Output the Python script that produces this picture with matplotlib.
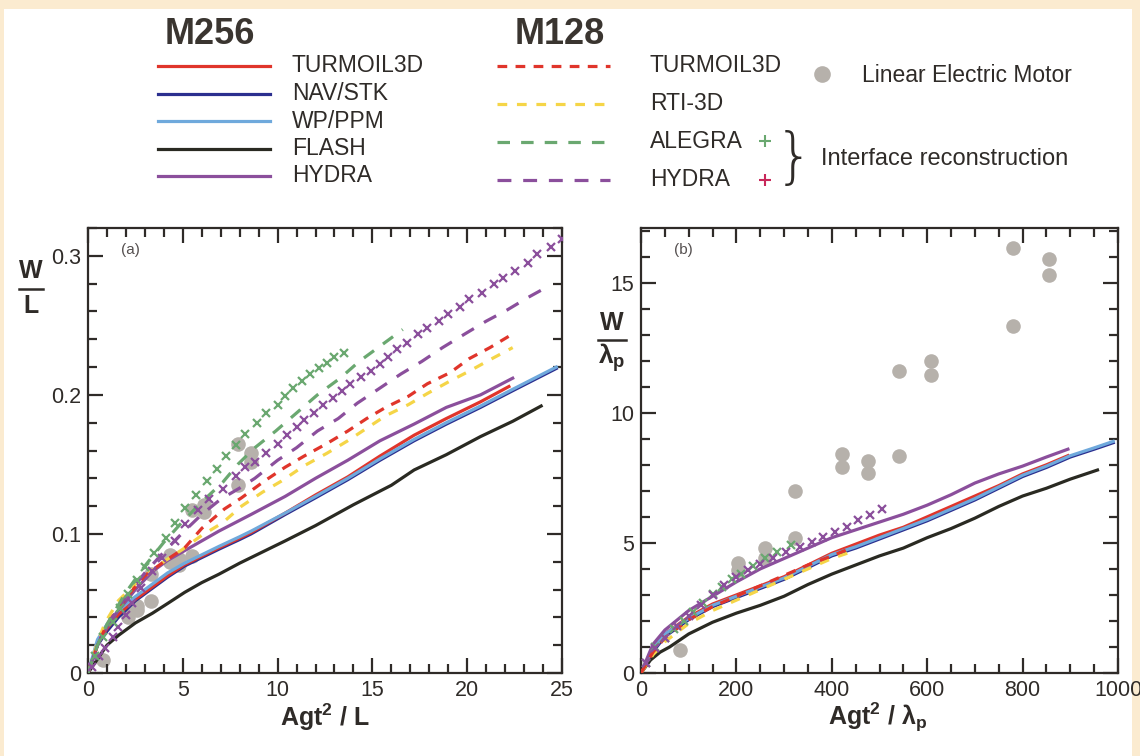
import matplotlib
matplotlib.use("Agg")
import matplotlib.pyplot as plt
from matplotlib.patches import Rectangle
from matplotlib.ticker import MultipleLocator

plt.rcParams['font.family'] = ['Liberation Sans', 'DejaVu Sans']
plt.rcParams['mathtext.fontset'] = 'custom'
plt.rcParams['mathtext.rm'] = 'Liberation Sans'
plt.rcParams['mathtext.bf'] = 'Liberation Sans:bold'
plt.rcParams['mathtext.it'] = 'Liberation Sans:italic'
plt.rcParams['lines.scale_dashes'] = False

# ---------------- panel (a): W/L versus Agt^2/L ----------------
a_flash_x = [0, 0.5, 1, 1.6, 2.5, 3.4, 4.2, 5.1, 6, 6.9, 8, 8.6, 10.4, 12, 14, 16, 17.2, 18.9, 20.7, 22.4, 23.9]
a_flash_y = [0, 0.010, 0.020, 0.027, 0.036, 0.043, 0.050, 0.058, 0.065, 0.071, 0.079, 0.083, 0.095, 0.106, 0.121, 0.135, 0.146, 0.157, 0.170, 0.181, 0.192]

a_navstk_x = [0, 0.5, 1, 1.6, 2.5, 3.4, 4.2, 5.1, 6, 6.9, 8, 8.6, 10.4, 12, 13.7, 15.4, 17.2, 18.9, 20.7, 22.4, 24.7]
a_navstk_y = [0, 0.020, 0.030, 0.040, 0.052, 0.061, 0.069, 0.077, 0.083, 0.089, 0.096, 0.100, 0.114, 0.126, 0.139, 0.153, 0.167, 0.179, 0.191, 0.203, 0.219]

a_wpppm_x = [0, 0.5, 1, 1.6, 2.5, 3.4, 4.2, 5.1, 6, 6.9, 8, 8.6, 10.4, 12, 13.7, 15.4, 17.2, 18.9, 20.7, 22.4, 24.7]
a_wpppm_y = [0, 0.024, 0.035, 0.045, 0.055, 0.064, 0.072, 0.079, 0.085, 0.091, 0.098, 0.102, 0.115, 0.127, 0.140, 0.154, 0.168, 0.180, 0.192, 0.204, 0.220]

a_turm256_x = [0, 0.5, 1, 1.6, 2.5, 3.4, 4.2, 5.1, 6, 6.9, 8, 8.6, 10.4, 12, 13.7, 15.4, 17.2, 18.9, 20.7, 22.2]
a_turm256_y = [0, 0.021, 0.032, 0.042, 0.053, 0.062, 0.070, 0.078, 0.084, 0.090, 0.097, 0.101, 0.115, 0.128, 0.141, 0.156, 0.171, 0.183, 0.195, 0.206]

a_hydra256_x = [0, 0.5, 1, 1.6, 2.5, 3.4, 4.2, 5.1, 6, 6.9, 8.6, 10.4, 12, 13.7, 15.4, 17.2, 18.9, 20.7, 22.4]
a_hydra256_y = [0, 0.020, 0.033, 0.045, 0.060, 0.073, 0.081, 0.088, 0.095, 0.102, 0.114, 0.127, 0.140, 0.153, 0.167, 0.179, 0.191, 0.200, 0.212]

a_turm128_x = [0, 0.5, 1, 2, 3, 4, 5.1, 6, 7.2, 8.1, 9.3, 10.4, 11.4, 12.6, 13.7, 14.7, 15.7, 16.9, 17.9, 19.1, 20.1, 21.2, 22.3]
a_turm128_y = [0, 0.020, 0.035, 0.054, 0.070, 0.080, 0.090, 0.104, 0.118, 0.126, 0.138, 0.148, 0.156, 0.165, 0.174, 0.183, 0.191, 0.199, 0.208, 0.216, 0.226, 0.234, 0.243]

a_rti_x = [0, 0.5, 0.9, 1.6, 2.5, 3.3, 4.1, 5.0, 6.0, 7.1, 8.1, 9.2, 10.2, 11.4, 12.6, 13.7, 14.7, 15.7, 16.9, 17.9, 19.1, 20.1, 21.3, 22.4]
a_rti_y = [0, 0.022, 0.036, 0.052, 0.064, 0.073, 0.081, 0.089, 0.099, 0.108, 0.120, 0.130, 0.138, 0.149, 0.158, 0.167, 0.176, 0.185, 0.193, 0.201, 0.210, 0.217, 0.226, 0.234]

a_alegra_x = [0, 0.5, 1, 2, 3, 4, 5, 6, 7.1, 7.9, 8.8, 9.9, 11.0, 12.1, 13.3, 14.3, 15.4, 16.6]
a_alegra_y = [0, 0.020, 0.035, 0.058, 0.077, 0.094, 0.109, 0.123, 0.137, 0.150, 0.162, 0.174, 0.187, 0.200, 0.212, 0.224, 0.235, 0.247]

a_hydra128_x = [0, 0.5, 1, 2, 3, 4, 5, 6, 7, 8, 8.8, 10.0, 11.0, 12.1, 13.2, 14.2, 15.3, 16.5, 17.6, 18.7, 19.9, 21.0, 22.1, 23.2, 24.4]
a_hydra128_y = [0, 0.020, 0.034, 0.055, 0.072, 0.087, 0.101, 0.114, 0.125, 0.133, 0.140, 0.153, 0.162, 0.174, 0.183, 0.194, 0.204, 0.215, 0.224, 0.234, 0.244, 0.253, 0.261, 0.270, 0.279]

# interface-reconstruction runs (markers)
a_alegra_ir_x = [0.35, 0.8, 1.3, 1.7, 2.1, 2.6, 3.0, 3.5, 4.1, 4.6, 5.1, 5.7, 6.3, 6.8, 7.3, 7.8, 8.3, 8.9, 9.4, 10.0, 10.4, 10.8, 11.3, 11.7, 12.2, 12.6, 13.0, 13.5]
a_alegra_ir_y = [0.012, 0.026, 0.037, 0.047, 0.057, 0.067, 0.076, 0.086, 0.097, 0.108, 0.119, 0.128, 0.138, 0.147, 0.156, 0.164, 0.172, 0.180, 0.187, 0.193, 0.199, 0.205, 0.210, 0.215, 0.219, 0.223, 0.227, 0.230]

a_hydra_ir_x = [0.2, 0.6, 0.9, 1.3, 1.6, 2.0, 2.3, 2.8, 3.4, 3.9, 4.6, 5.1, 5.8, 6.4, 7.1, 7.8, 8.3, 8.8, 9.4, 10.0, 10.5, 11.0, 11.4, 11.9, 12.4, 12.9, 13.4, 13.8, 14.4, 14.9, 15.4, 15.8, 16.3, 16.8, 17.4, 17.9, 18.5, 19.0, 19.6, 20.1, 20.8, 21.4, 21.9, 22.5, 23.2, 23.7, 24.4, 25.0]
a_hydra_ir_y = [0.004, 0.012, 0.018, 0.026, 0.033, 0.042, 0.050, 0.061, 0.073, 0.083, 0.095, 0.107, 0.117, 0.125, 0.132, 0.142, 0.148, 0.152, 0.158, 0.165, 0.171, 0.177, 0.182, 0.187, 0.193, 0.198, 0.203, 0.208, 0.213, 0.217, 0.222, 0.227, 0.233, 0.237, 0.244, 0.248, 0.253, 0.258, 0.263, 0.269, 0.273, 0.280, 0.284, 0.289, 0.295, 0.301, 0.306, 0.312]

# Linear Electric Motor experiments
a_lem_x = [7.9, 8.6, 8.6, 7.9, 6.1, 6.1, 5.5, 5.5, 4.3, 4.3, 4.8, 4.8, 3.3, 3.3, 2.6, 2.6, 2.1, 2.1, 0.8]
a_lem_y = [0.165, 0.158, 0.152, 0.135, 0.121, 0.116, 0.117, 0.084, 0.085, 0.080, 0.082, 0.078, 0.071, 0.052, 0.048, 0.045, 0.043, 0.040, 0.009]

# ---------------- panel (b): W/lambda_p versus Agt^2/lambda_p ----------------
b_flash_x = [0, 10, 20, 40, 60, 100, 150, 200, 250, 300, 350, 400, 450, 500, 550, 600, 650, 700, 750, 800, 850, 900, 957]
b_flash_y = [0, 0.25, 0.5, 0.8, 1.0, 1.5, 1.95, 2.3, 2.6, 2.95, 3.4, 3.8, 4.15, 4.5, 4.8, 5.2, 5.55, 5.95, 6.4, 6.8, 7.1, 7.45, 7.8]

b_navstk_x = [0, 20, 50, 100, 150, 200, 250, 300, 350, 400, 450, 500, 550, 600, 650, 700, 750, 800, 850, 900, 950, 990]
b_navstk_y = [0, 0.7, 1.4, 2.05, 2.55, 2.9, 3.25, 3.6, 4.05, 4.5, 4.8, 5.15, 5.5, 5.85, 6.25, 6.65, 7.1, 7.55, 7.9, 8.3, 8.6, 8.85]

b_wpppm_x = [0, 20, 50, 100, 150, 200, 250, 300, 350, 400, 450, 500, 550, 600, 650, 700, 750, 800, 850, 900, 950, 990]
b_wpppm_y = [0, 0.8, 1.5, 2.1, 2.6, 2.95, 3.3, 3.65, 4.1, 4.55, 4.85, 5.2, 5.55, 5.9, 6.3, 6.7, 7.15, 7.6, 7.95, 8.35, 8.65, 8.9]

b_turm256_x = [0, 25, 50, 100, 150, 200, 250, 300, 350, 400, 450, 500, 550, 600, 650, 700, 750, 800, 850, 895]
b_turm256_y = [0, 0.9, 1.5, 2.15, 2.65, 3.0, 3.35, 3.7, 4.15, 4.6, 4.95, 5.3, 5.6, 6.0, 6.4, 6.8, 7.2, 7.65, 8.0, 8.35]

b_hydra256_x = [0, 25, 50, 100, 150, 200, 250, 300, 350, 400, 450, 500, 550, 600, 650, 700, 750, 800, 850, 895]
b_hydra256_y = [0, 1.1, 1.65, 2.4, 2.95, 3.5, 4.0, 4.4, 4.8, 5.2, 5.5, 5.8, 6.1, 6.45, 6.85, 7.3, 7.65, 7.95, 8.3, 8.6]

b_turm128_x = [0, 25, 50, 100, 150, 200, 250, 300, 350, 400, 440]
b_turm128_y = [0, 0.8, 1.35, 2.05, 2.55, 2.95, 3.35, 3.75, 4.15, 4.5, 4.8]

b_rti_x = [0, 25, 50, 100, 150, 200, 250, 300, 350, 400, 440]
b_rti_y = [0, 0.7, 1.2, 1.9, 2.4, 2.8, 3.2, 3.6, 4.0, 4.4, 4.65]

b_alegra_ir_x = [10, 30, 50, 70, 90, 110, 130, 150, 170, 190, 210, 235, 260, 285, 315]
b_alegra_ir_y = [0.4, 1.0, 1.35, 1.7, 2.0, 2.35, 2.7, 3.05, 3.3, 3.6, 3.8, 4.1, 4.4, 4.65, 4.9]

b_hydra_ir_x = [10, 30, 50, 75, 100, 125, 150, 175, 200, 225, 250, 277, 305, 333, 358, 382, 406, 431, 455, 480, 505]
b_hydra_ir_y = [0.4, 0.95, 1.35, 1.8, 2.2, 2.6, 3.0, 3.4, 3.7, 3.95, 4.2, 4.4, 4.65, 4.85, 5.04, 5.23, 5.42, 5.62, 5.88, 6.08, 6.3]

b_lem_x = [780, 855, 855, 780, 608, 608, 541, 541, 421, 421, 476, 476, 323, 323, 260, 260, 203, 203, 82]
b_lem_y = [16.35, 15.9, 15.3, 13.35, 12.0, 11.46, 11.6, 8.35, 8.42, 7.92, 8.15, 7.7, 7.01, 5.19, 4.8, 4.42, 4.22, 3.96, 0.88]

# ---------------- styling ----------------
RED = '#e0352b'
NAVY = '#2b2f8f'
LBLUE = '#6fa9dc'
BLACK = '#2a2a22'
PURPLE = '#8b4f9c'
YELLOW = '#f5d547'
GREEN = '#6aa870'
CRIMSON = '#c8285a'
GREY = '#b6b1ab'
INK = '#2f2b28'

LW = 2.3
DASH = {'turm': (7, 6), 'rti': (7, 7), 'alegra': (9, 8), 'hydra': (10, 8.5)}

fig = plt.figure(figsize=(11.4, 7.56), dpi=100, facecolor='#fbebd0')
fig.add_artist(Rectangle((4 / 1140, 0), 1128 / 1140, 747 / 756, transform=fig.transFigure,
                         facecolor='white', edgecolor='none', zorder=-10))

ax_a = fig.add_axes([88 / 1140, 83 / 756, 474 / 1140, 445 / 756])
ax_b = fig.add_axes([641 / 1140, 83 / 756, 477 / 1140, 445 / 756])


def style_axes(ax):
    ax.set_facecolor('none')
    for sp in ax.spines.values():
        sp.set_linewidth(1.6)
        sp.set_color(INK)
    ax.tick_params(which='both', direction='in', top=True, right=True, color=INK,
                   labelcolor=INK, labelsize=15.5, width=1.6)
    ax.tick_params(which='major', length=11, pad=5)
    ax.tick_params(which='minor', length=6.5)


def draw_dashed(ax, x, y, color, key):
    ax.plot(x, y, color=color, lw=LW, dashes=DASH[key], solid_capstyle='butt', zorder=3)


# panel (a)
ax = ax_a
ax.plot(a_lem_x, a_lem_y, 'o', color=GREY, ms=10.5, mec='none', zorder=1)
ax.plot(a_flash_x, a_flash_y, color=BLACK, lw=LW, zorder=2)
ax.plot(a_navstk_x, a_navstk_y, color=NAVY, lw=LW, zorder=2)
ax.plot(a_turm256_x, a_turm256_y, color=RED, lw=LW, zorder=2)
ax.plot(a_wpppm_x, a_wpppm_y, color=LBLUE, lw=LW, zorder=2)
ax.plot(a_hydra256_x, a_hydra256_y, color=PURPLE, lw=LW, zorder=2)
draw_dashed(ax, a_rti_x, a_rti_y, YELLOW, 'rti')
draw_dashed(ax, a_turm128_x, a_turm128_y, RED, 'turm')
draw_dashed(ax, a_hydra128_x, a_hydra128_y, PURPLE, 'hydra')
draw_dashed(ax, a_alegra_x, a_alegra_y, GREEN, 'alegra')
ax.plot(a_hydra_ir_x, a_hydra_ir_y, 'x', color=PURPLE, ms=6, mew=1.6, zorder=4)
ax.plot(a_alegra_ir_x, a_alegra_ir_y, 'x', color=GREEN, ms=6, mew=1.6, zorder=4)
ax.set_xlim(0, 25)
ax.set_ylim(0, 0.32)
ax.xaxis.set_minor_locator(MultipleLocator(1))
ax.yaxis.set_minor_locator(MultipleLocator(0.02))
ax.set_xticks([0, 5, 10, 15, 20, 25], ['0', '5', '10', '15', '20', '25'])
ax.set_yticks([0, 0.1, 0.2, 0.3], ['0', '0.1', '0.2', '0.3'])
style_axes(ax)
ax.text(0.07, 0.95, '(a)', transform=ax.transAxes, fontsize=11, color='#555050', va='center')

# panel (b)
ax = ax_b
ax.plot(b_lem_x, b_lem_y, 'o', color=GREY, ms=10.5, mec='none', zorder=1)
ax.plot(b_flash_x, b_flash_y, color=BLACK, lw=LW, zorder=2)
draw_dashed(ax, b_rti_x, b_rti_y, YELLOW, 'rti')
draw_dashed(ax, b_turm128_x, b_turm128_y, RED, 'turm')
ax.plot(b_navstk_x, b_navstk_y, color=NAVY, lw=LW, zorder=2)
ax.plot(b_turm256_x, b_turm256_y, color=RED, lw=LW, zorder=2)
ax.plot(b_wpppm_x, b_wpppm_y, color=LBLUE, lw=LW, zorder=2)
ax.plot(b_hydra256_x, b_hydra256_y, color=PURPLE, lw=LW, zorder=2)
ax.plot(b_alegra_ir_x, b_alegra_ir_y, 'x', color=GREEN, ms=6, mew=1.6, zorder=4)
ax.plot(b_hydra_ir_x, b_hydra_ir_y, 'x', color=PURPLE, ms=6, mew=1.6, zorder=4)
ax.set_xlim(0, 1000)
ax.set_ylim(0, 17.1)
ax.xaxis.set_major_locator(MultipleLocator(200))
ax.xaxis.set_minor_locator(MultipleLocator(50))
ax.yaxis.set_major_locator(MultipleLocator(5))
ax.yaxis.set_minor_locator(MultipleLocator(1))
style_axes(ax)
ax.text(0.07, 0.95, '(b)', transform=ax.transAxes, fontsize=11, color='#555050', va='center')

# axis labels and the legend block live on a pixel-unit overlay
ov = fig.add_axes([0, 0, 1, 1])
ov.set_xlim(0, 1140)
ov.set_ylim(756, 0)
ov.axis('off')
ov.patch.set_alpha(0)

lab = dict(color=INK, fontweight='bold', ha='center', va='center')
ov.text(325, 717, 'Agt$^\\mathbf{2}$ / L', fontsize=18, **lab)
ov.text(878, 717, 'Agt$^\\mathbf{2}$ / $\\mathbf{\\lambda_p}$', fontsize=18, **lab)

ov.text(31, 271, 'W', fontsize=18, **lab)
ov.plot([19, 43], [289, 289], color=INK, lw=1.8)
ov.text(31, 306, 'L', fontsize=18, **lab)

ov.text(612, 323, 'W', fontsize=18, **lab)
ov.plot([598, 626], [340, 340], color=INK, lw=1.8)
ov.text(612, 358, '$\\mathbf{\\lambda_p}$', fontsize=19, **lab)

# legend: M256 (solid)
ov.text(210, 35, 'M256', fontsize=26, color='#3a3530', fontweight='bold', ha='center', va='center')
m256 = [('TURMOIL3D', RED), ('NAV/STK', NAVY), ('WP/PPM', LBLUE), ('FLASH', BLACK), ('HYDRA', PURPLE)]
for i, (name, col) in enumerate(m256):
    yy = 66 + i * 27.5
    ov.plot([158, 270], [yy, yy], color=col, lw=LW)
    ov.text(292, yy, name, fontsize=16.5, color=INK, va='center')

# legend: M128 (dashed)
ov.text(560, 35, 'M128', fontsize=26, color='#3a3530', fontweight='bold', ha='center', va='center')
m128 = [('TURMOIL3D', RED, 'turm'), ('RTI-3D', YELLOW, 'rti'), ('ALEGRA', GREEN, 'alegra'), ('HYDRA', PURPLE, 'hydra')]
for i, (name, col, key) in enumerate(m128):
    yy = 66 + i * 38
    ov.plot([497, 610], [yy, yy], color=col, lw=LW, dashes=DASH[key], solid_capstyle='butt')
    ov.text(650, yy, name, fontsize=16.5, color=INK, va='center')

ov.plot([765], [141], '+', color=GREEN, ms=9, mew=1.5)
ov.plot([765], [180], '+', color=CRIMSON, ms=9, mew=1.5)
ov.text(794, 160, '}', fontsize=44, color=INK, ha='center', va='center', fontweight='light',
        family='DejaVu Sans')
ov.text(821, 159, 'Interface reconstruction', fontsize=17, color=INK, va='center')

ov.plot([822], [74], 'o', color=GREY, ms=12, mec='none')
ov.text(862, 76, 'Linear Electric Motor', fontsize=16.5, color=INK, va='center')

fig.savefig('out.png', dpi=100, facecolor=fig.get_facecolor())
